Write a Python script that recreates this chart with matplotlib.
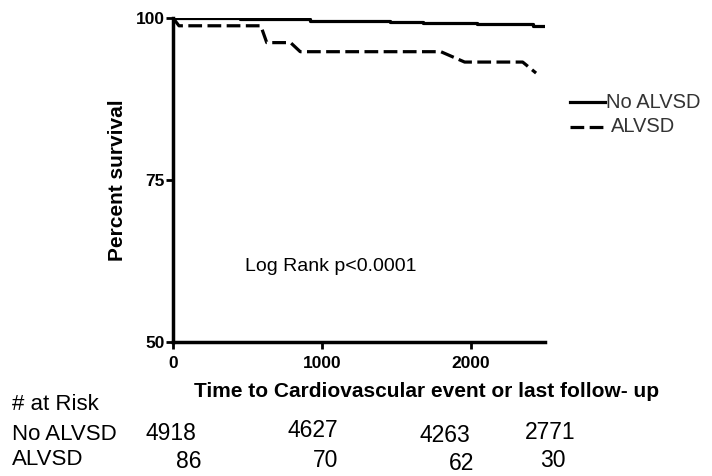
import numpy as np
import matplotlib.pyplot as plt

plt.rcParams['font.family'] = ['Liberation Sans', 'DejaVu Sans']

# survival curves
no_alvsd_t = [0, 450, 920, 1460, 1680, 2045, 2420, 2500]
no_alvsd_s = [100, 99.8, 99.6, 99.4, 99.2, 99.05, 98.7, 98.7]
alvsd_t = [0, 40, 590, 630, 790, 855, 1800, 1960, 2350, 2440]
alvsd_s = [100, 98.8, 98.8, 96.2, 96.2, 94.8, 94.8, 93.2, 93.2, 91.5]

risk_times = [0, 1000, 2000, 2500]
risk_no_alvsd = [4918, 4627, 4263, 2771]
risk_alvsd = [86, 70, 62, 30]

W, H = 712, 476
fig = plt.figure(figsize=(W / 100, H / 100), dpi=100)
ax = fig.add_axes([173/W, 1 - 342/H, (545-173)/W, (342-18)/H])

dash = (0, (4.3, 1.7))
ax.step(no_alvsd_t, no_alvsd_s, where='post', color='black', lw=2.3)
ax.plot(alvsd_t, alvsd_s, color='black', lw=2.3, linestyle=dash)

ax.set_xlim(0, 2500)
ax.set_ylim(50, 100)
ax.set_xticks([0, 1000, 2000])
ax.set_yticks([50, 75, 100])
for s in ['top', 'right']:
    ax.spines[s].set_visible(False)
for s in ['left', 'bottom']:
    ax.spines[s].set_linewidth(2.5)
ax.tick_params(direction='out', length=5, width=2, labelsize=12.5)
ax.tick_params(axis='x', pad=5)
ax.tick_params(axis='y', pad=1)
for lab in ax.get_xticklabels() + ax.get_yticklabels():
    lab.set_fontweight('bold')

ax.set_ylabel('Percent survival', fontsize=15, fontweight='bold', labelpad=6)
fig.text(427/W, 1 - 397/H, 'Time to Cardiovascular event or last follow- up',
         fontsize=15, fontweight='bold', ha='center', va='baseline')
ax.text(1060, 61.6, 'Log Rank p<0.0001', fontsize=14, ha='center', va='center')

# legend outside the axes
fig.lines.append(plt.Line2D([570/W, 605/W], [1 - 102/H] * 2,
                            transform=fig.transFigure, color='black', lw=2.3))
fig.lines.append(plt.Line2D([570/W, 605/W], [1 - 127/H] * 2,
                            transform=fig.transFigure, color='black', lw=2.3,
                            linestyle=dash))
fig.text(606/W, 1 - 102/H, 'No ALVSD', fontsize=14.5, va='center', color='#333333')
fig.text(611/W, 1 - 127/H, 'ALVSD', fontsize=14.5, va='center', color='#333333')

# numbers at risk
fig.text(12/W, 1 - 410/H, '# at Risk', fontsize=16, va='baseline')
fig.text(12/W, 1 - 440/H, 'No ALVSD', fontsize=16, va='baseline')
fig.text(12/W, 1 - 465/H, 'ALVSD', fontsize=16, va='baseline')
no_x = [171, 313, 445, 550]
al_x = [189, 326, 462, 553]
no_y = [440, 437, 442, 439]
al_y = [468, 467, 470, 467]
for i in range(len(risk_times)):
    fig.text(no_x[i]/W, 1 - no_y[i]/H, str(risk_no_alvsd[i]), fontsize=16.5,
             ha='center', va='baseline')
    fig.text(al_x[i]/W, 1 - al_y[i]/H, str(risk_alvsd[i]), fontsize=16.5,
             ha='center', va='baseline')

fig.savefig('out.png', dpi=100)
